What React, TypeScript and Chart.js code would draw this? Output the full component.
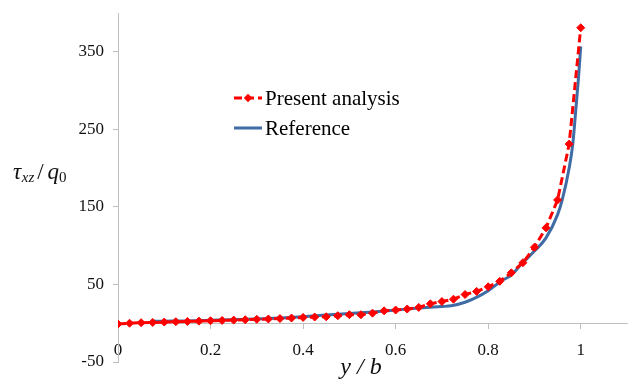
import React, { useEffect, useRef } from 'react';
import { Chart, registerables } from 'chart.js';

Chart.register(...registerables);

// ---- data ----
const seriesNames = ['Present analysis', 'Reference'];

const xPresent = [
  0, 0.025, 0.05, 0.075, 0.1, 0.125, 0.15, 0.175, 0.2, 0.225,
  0.25, 0.275, 0.3, 0.325, 0.35, 0.375, 0.4, 0.425, 0.45, 0.475,
  0.5, 0.525, 0.55, 0.575, 0.6, 0.625, 0.65, 0.675, 0.7, 0.725,
  0.75, 0.775, 0.8, 0.825, 0.85, 0.875, 0.9, 0.925, 0.95, 0.975, 1,
];
const yPresent = [
  -1, 0, 0.7, 1, 1.5, 2, 2.3, 2.7, 3.2, 3.6,
  4, 4.5, 5, 5.5, 6, 6.7, 7.5, 8, 8.3, 9.7,
  11, 11, 13, 16, 17, 18.3, 20.4, 25, 28, 31,
  37, 41, 47, 54, 65, 78, 98, 123, 159, 231, 381,
];

const xReference = [
  0.075, 0.1, 0.15, 0.2, 0.25, 0.3, 0.35, 0.4, 0.45, 0.5,
  0.55, 0.6, 0.65, 0.7, 0.72, 0.75, 0.78, 0.8, 0.83, 0.85,
  0.87, 0.9, 0.925, 0.95, 0.96, 0.975, 0.983, 0.99, 0.995, 1,
];
const yReference = [
  2.4, 2.6, 3, 3.8, 4.6, 5.5, 6.7, 8.3, 10.5, 12.5,
  14.5, 17, 19.5, 21.5, 22.5, 27, 35, 42, 55, 62,
  75, 93, 110, 140, 159, 200, 232, 280, 315, 357,
];

const xTicks = [0, 0.2, 0.4, 0.6, 0.8, 1];
const yTicks = [-50, 50, 150, 250, 350];

const SERIF = '"Liberation Serif", "Times New Roman", serif';
const RED = '#FF0000';
const BLUE = '#3F6CA5';
const AXIS = '#BFBFBF';

const titlesAndLegend = {
  id: 'titlesAndLegend',
  afterDraw(chart: any) {
    const ctx = chart.ctx as CanvasRenderingContext2D;
    ctx.save();
    ctx.fillStyle = '#111';
    ctx.textAlign = 'left';
    ctx.textBaseline = 'alphabetic';

    // y-axis title: τxz / q0
    let x = 13;
    const base = 179;
    ctx.font = `italic 23px ${SERIF}`;
    ctx.fillText('τ', x, base);
    x += ctx.measureText('τ').width + 0.5;
    ctx.font = `italic 15px ${SERIF}`;
    ctx.fillText('xz', x, base + 3);
    x += ctx.measureText('xz').width + 3;
    ctx.font = `23px ${SERIF}`;
    ctx.fillText('/', x, base);
    x += ctx.measureText('/').width + 4;
    ctx.font = `italic 23px ${SERIF}`;
    ctx.fillText('q', x, base);
    x += ctx.measureText('q').width;
    ctx.font = `15px ${SERIF}`;
    ctx.fillText('0', x, base + 3);

    // x-axis title: y / b
    ctx.font = `italic 24px ${SERIF}`;
    ctx.textAlign = 'center';
    ctx.fillText('y / b', 361, 374);

    // legend
    const items = chart.data.datasets;
    const ly = [98, 128];
    items.forEach((ds: any, i: number) => {
      const y = ly[i];
      ctx.save();
      ctx.strokeStyle = ds.borderColor;
      ctx.lineWidth = ds.borderWidth;
      ctx.setLineDash(ds.borderDash || []);
      ctx.beginPath();
      ctx.moveTo(234, y);
      ctx.lineTo(262, y);
      ctx.stroke();
      ctx.restore();
      if (ds.pointRadius > 0) {
        ctx.save();
        ctx.fillStyle = ds.pointBackgroundColor;
        ctx.translate(248, y);
        ctx.rotate(Math.PI / 4);
        const r = ds.pointRadius * 0.75;
        ctx.fillRect(-r, -r, 2 * r, 2 * r);
        ctx.restore();
      }
      ctx.fillStyle = '#000';
      ctx.font = `21px ${SERIF}`;
      ctx.textAlign = 'left';
      ctx.textBaseline = 'middle';
      ctx.fillText(ds.label, 265, y + 1);
    });
    ctx.restore();
  },
};

export default function App() {
  const ref = useRef<HTMLCanvasElement | null>(null);

  useEffect(() => {
    document.body.style.margin = '0';
    document.body.style.overflow = 'hidden';
    const canvas = ref.current;
    if (!canvas) return;

    const chart = new Chart(canvas, {
      type: 'scatter',
      data: {
        datasets: [
          {
            label: seriesNames[0],
            data: xPresent.map((x, i) => ({ x, y: yPresent[i] })),
            showLine: true,
            borderColor: RED,
            backgroundColor: RED,
            borderWidth: 3,
            borderDash: [8, 4],
            pointStyle: 'rectRot',
            pointRadius: 4,
            pointBackgroundColor: RED,
            pointBorderColor: RED,
            pointBorderWidth: 1,
            order: 1,
          } as any,
          {
            label: seriesNames[1],
            data: xReference.map((x, i) => ({ x, y: yReference[i] })),
            showLine: true,
            borderColor: BLUE,
            backgroundColor: BLUE,
            borderWidth: 3,
            pointRadius: 0,
            cubicInterpolationMode: 'monotone',
            order: 2,
          } as any,
        ],
      },
      options: {
        responsive: false,
        animation: false,
        layout: { padding: { left: 0, top: 13, right: 4, bottom: 25 } },
        plugins: {
          legend: { display: false },
          tooltip: { enabled: false },
        },
        scales: {
          x: {
            type: 'linear',
            position: { y: 0 } as any,
            min: 0,
            max: 1.1,
            afterBuildTicks: (scale: any) => {
              scale.ticks = xTicks.map((v) => ({ value: v }));
            },
            afterFit: (scale: any) => {
              scale.paddingLeft = 0;
              scale.paddingRight = 0;
            },
            grid: {
              display: true,
              drawOnChartArea: false,
              drawTicks: true,
              tickLength: 5,
              color: AXIS,
            },
            border: { display: true, color: AXIS, width: 1 },
            ticks: {
              color: '#111',
              padding: 12,
              maxRotation: 0,
              autoSkip: false,
              font: { family: SERIF, size: 17 },
              callback: (v: any) => String(Number(Number(v).toFixed(1))),
            },
          },
          y: {
            type: 'linear',
            position: 'left',
            min: -50,
            max: 400,
            afterBuildTicks: (scale: any) => {
              scale.ticks = yTicks.map((v) => ({ value: v }));
            },
            afterFit: (scale: any) => {
              scale.width = 118;
              scale.paddingTop = 0;
              scale.paddingBottom = 0;
            },
            grid: {
              display: true,
              drawOnChartArea: false,
              drawTicks: true,
              tickLength: 5,
              color: AXIS,
            },
            border: { display: true, color: AXIS, width: 1 },
            ticks: {
              color: '#111',
              padding: 9,
              autoSkip: false,
              font: { family: SERIF, size: 17 },
              callback: (v: any) => String(v),
            },
          },
        },
      },
      plugins: [titlesAndLegend],
    });

    return () => chart.destroy();
  }, []);

  return (
    <canvas
      ref={ref}
      width={632}
      height={387}
      style={{ display: 'block', width: 632, height: 387 }}
    />
  );
}
